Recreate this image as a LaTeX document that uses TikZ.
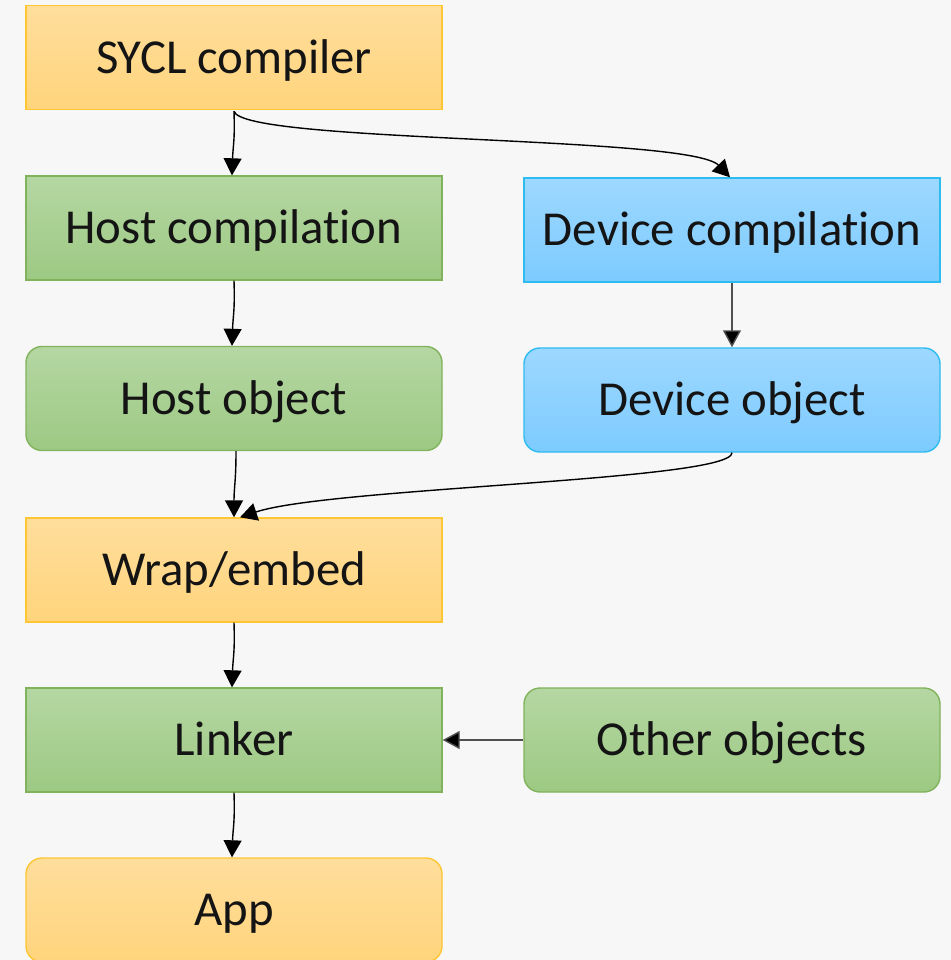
\documentclass[tikz,border=0pt]{standalone}
\usepackage{fontspec}
\setmainfont[Ligatures={NoCommon},RawFeature={-liga;-dlig}]{Carlito}
\usetikzlibrary{arrows.meta}
\definecolor{bgc}{HTML}{F7F7F7}
\definecolor{orTop}{HTML}{FFDE9C}
\definecolor{orBot}{HTML}{FFD47C}
\definecolor{orLine}{HTML}{FFC633}
\definecolor{grTop}{HTML}{B5D7A3}
\definecolor{grBot}{HTML}{9DC983}
\definecolor{grLine}{HTML}{80B35C}
\definecolor{blTop}{HTML}{9DD8FF}
\definecolor{blBot}{HTML}{7DCBFF}
\definecolor{blLine}{HTML}{2EBBF0}
\definecolor{linkgray}{HTML}{505050}
\tikzset{
  box/.style={minimum width=208pt, minimum height=52pt, inner sep=0pt,
    text height=15.7pt, text depth=0pt,
    line width=0.7pt, font=\fontsize{24.4}{29}\selectfont, text=black!92},
  orangebox/.style={box, draw=orLine, top color=orTop, bottom color=orBot},
  greenbox/.style={box, draw=grLine, top color=grTop, bottom color=grBot},
  bluebox/.style={box, draw=blLine, top color=blTop, bottom color=blBot},
  round/.style={rounded corners=8pt},
  flow/.style={line width=0.7pt, draw=black,
    -{Triangle[length=8.5pt,width=9pt]}},
  flowgray/.style={flow, draw=linkgray, arrows={-{Triangle[length=8.5pt,width=9pt,fill=black]}}}
}
\begin{document}
\begin{tikzpicture}[x=0.5pt,y=-0.5pt]
  \fill[bgc] (0,0) rectangle (951,960);
  \useasboundingbox (0,0) rectangle (951,960);

  \node[orangebox] (sycl) at (234,57.5) {SYCL compiler};
  \node[greenbox] (hostc) at (234,228) {Host compilation};
  \node[bluebox] (devc) at (732,230) {Device compilation};
  \node[greenbox,round] (hosto) at (234,398.5) {Host object};
  \node[bluebox,round] (devo) at (732,400) {Device object};
  \node[orangebox] (wrap) at (234,570) {Wrap/embed};
  \node[greenbox] (linker) at (234,740) {Linker};
  \node[greenbox,round] (other) at (732,740) {Other objects};
  \node[orangebox,round] (app) at (234,910) {App};

  % compiler splits into host and device paths
  \draw[flow] ([yshift=-0.5pt]sycl.south) .. controls +(1,30) and +(1,-30) .. ([xshift=-1pt]hostc.north);
  \draw[flow] ([yshift=-0.5pt]sycl.south) .. controls +(8,32) and +(-40,-42) .. ([xshift=-1pt]devc.north);
  \draw[flow] (hostc.south) .. controls +(1,30) and +(1,-30) .. ([xshift=-1pt]hosto.north);
  \draw[flowgray] (devc.south) -- (devo.south |- devo.north);
  % both objects are wrapped together
  \draw[flow] ([xshift=1pt]hosto.south) .. controls +(0,30) and +(0,-30) .. (wrap.north);
  \draw[flow] (devo.south) .. controls +(0,28) and +(90,-30) .. ([xshift=3pt]wrap.north);
  \draw[flow] (wrap.south) .. controls +(1,30) and +(1,-30) .. ([xshift=-1pt]linker.north);
  \draw[flowgray] (other.west) -- (linker.east);
  \draw[flow] (linker.south) .. controls +(1,30) and +(1,-30) .. ([xshift=-1pt]app.north);
\end{tikzpicture}
\end{document}
